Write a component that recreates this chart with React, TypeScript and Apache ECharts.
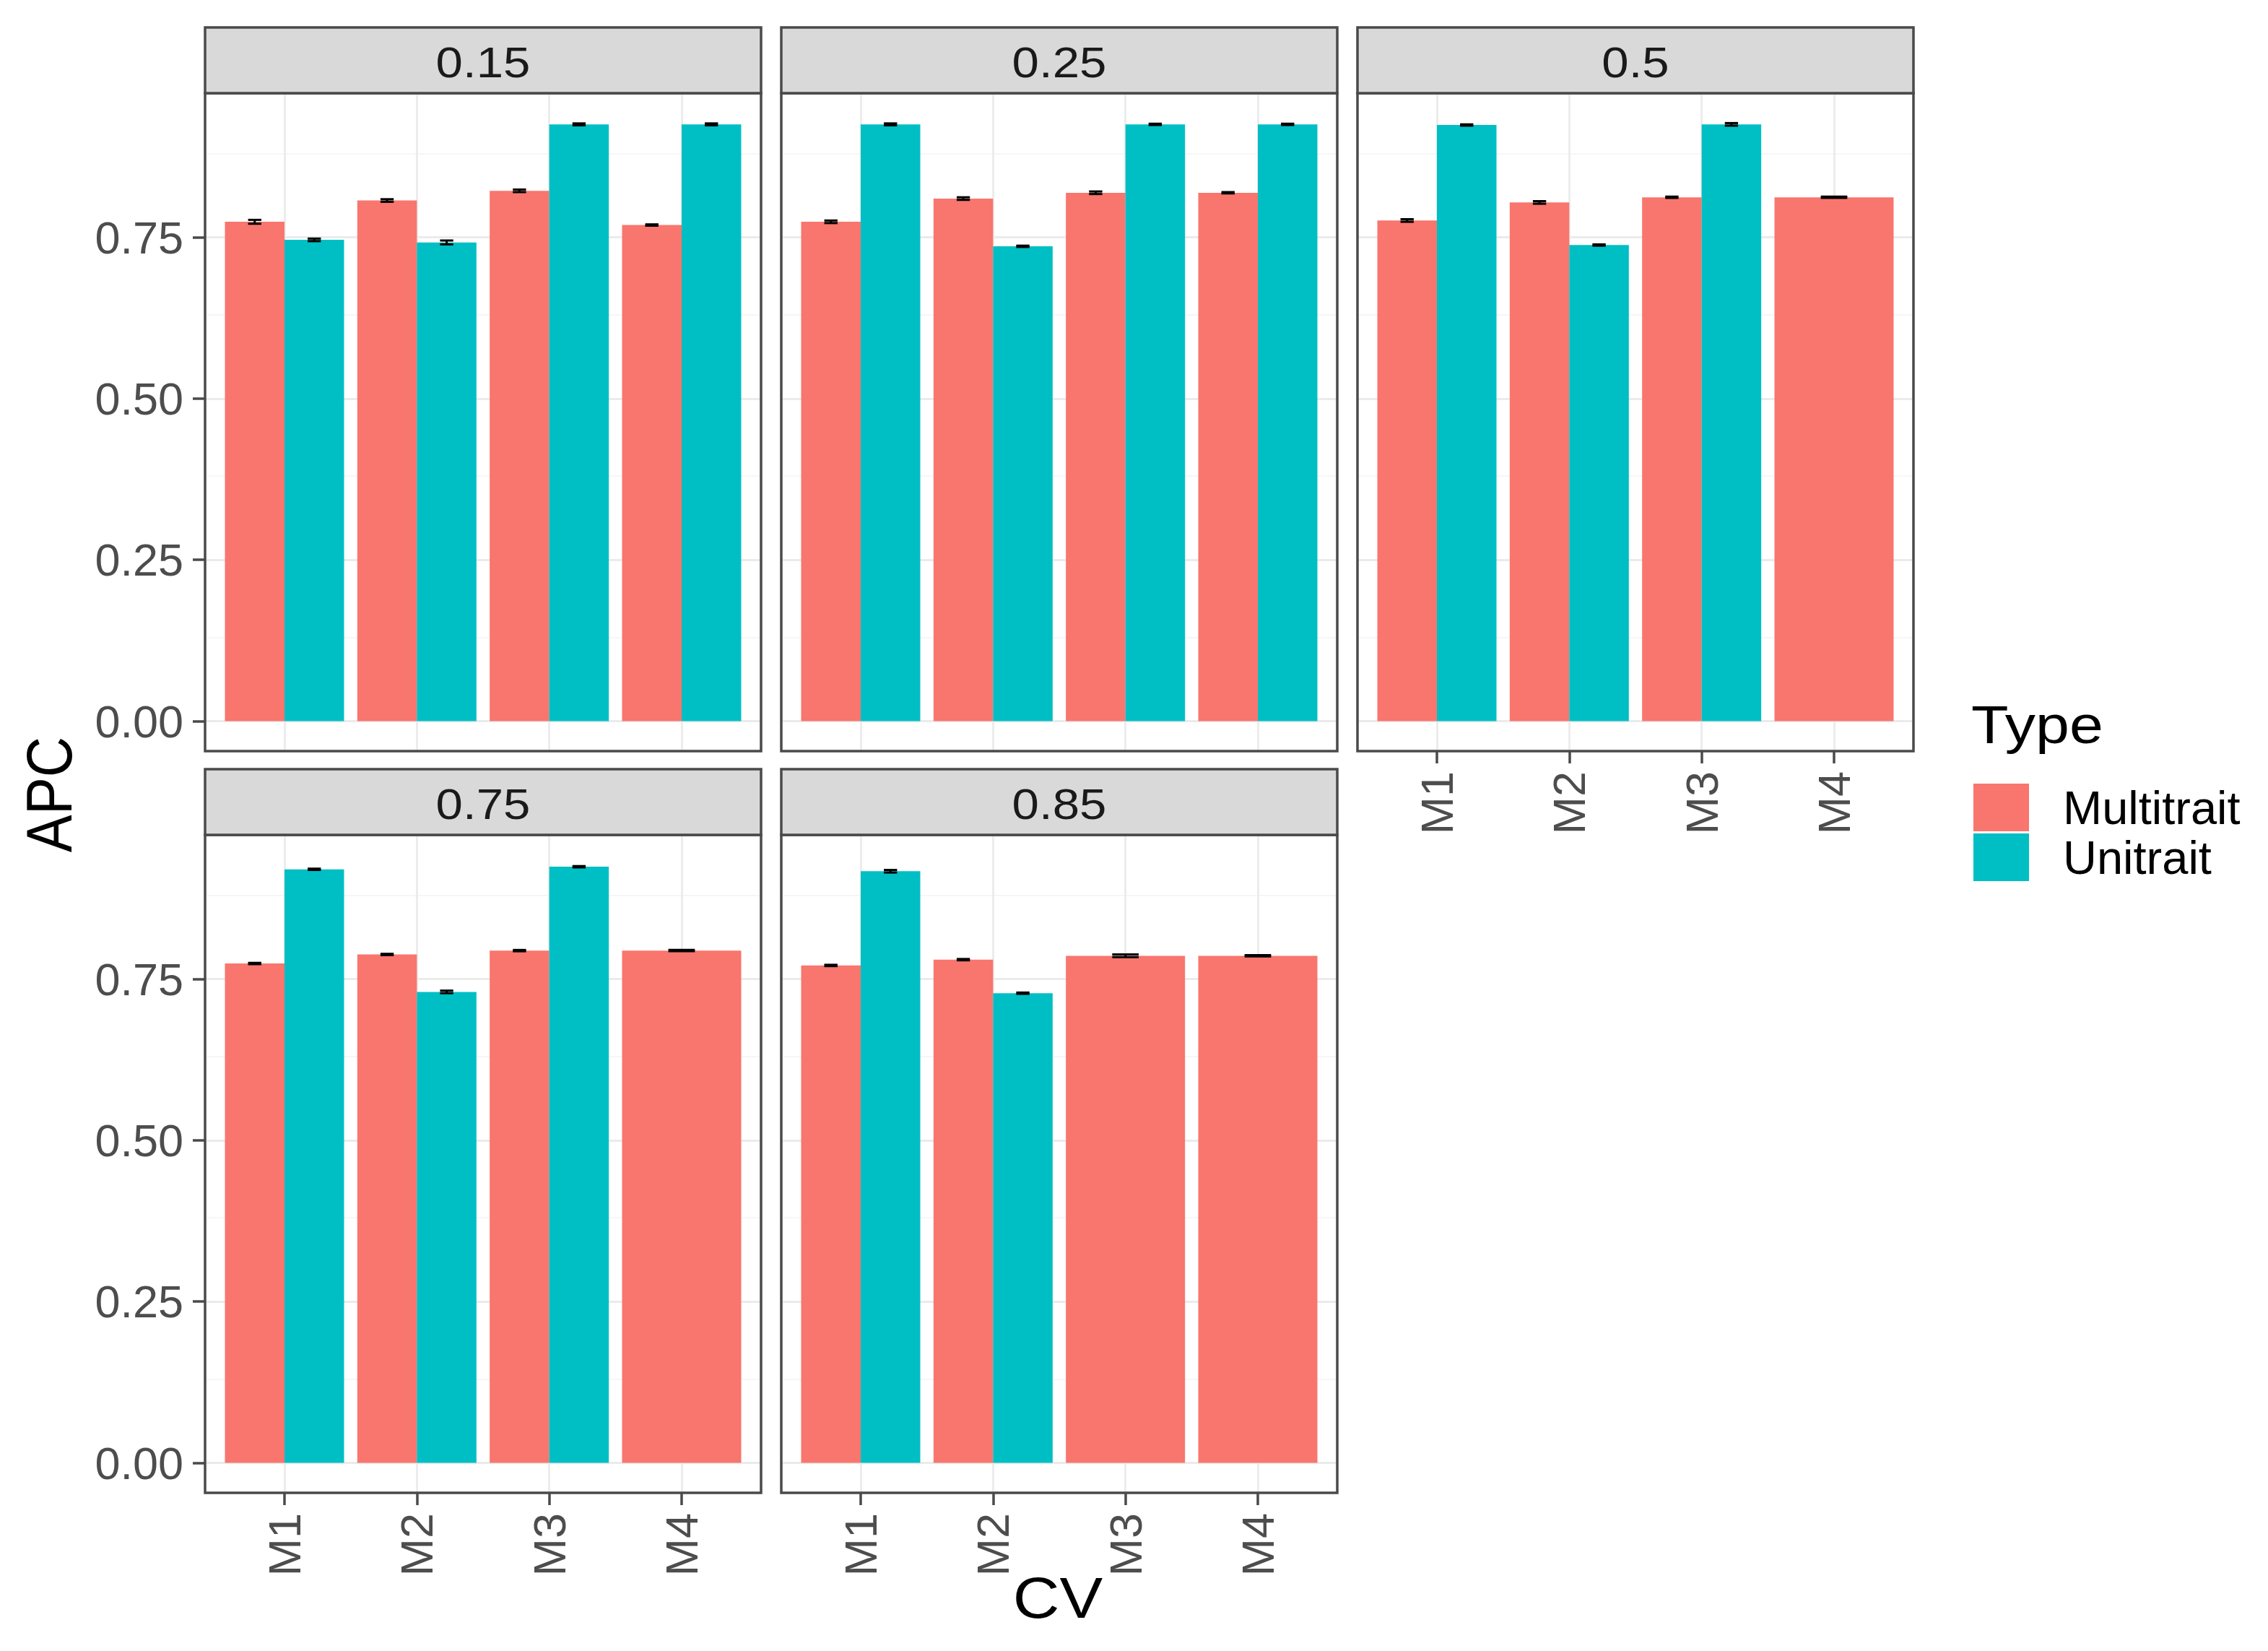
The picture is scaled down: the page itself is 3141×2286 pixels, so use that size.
import React, { useEffect, useRef } from "react";
import * as echarts from "echarts";

// ---------- data ----------
const FACETS = ["0.15", "0.25", "0.5", "0.75", "0.85"];
const MODELS = ["M1", "M2", "M3", "M4"];
const TYPES = ["Multitrait", "Unitrait"];
const COLORS = ["#F8766D", "#00BFC4"];

// APC per facet (rows follow FACETS), columns follow MODELS; null = not present
const MULTITRAIT = [
  [0.774, 0.807, 0.822, 0.769],
  [0.774, 0.810, 0.819, 0.819],
  [0.776, 0.804, 0.812, 0.812],
  [0.774, 0.788, 0.794, 0.794],
  [0.771, 0.780, 0.786, 0.786],
];
const UNITRAIT = [
  [0.746, 0.742, 0.925, 0.925],
  [0.925, 0.736, 0.925, 0.925],
  [0.924, 0.738, 0.925, null],
  [0.920, 0.730, 0.924, null],
  [0.917, 0.728, null, null],
];
const MULTITRAIT_SE = [
  [0.003, 0.002, 0.002, 0.001],
  [0.002, 0.002, 0.002, 0.001],
  [0.002, 0.002, 0.001, 0.001],
  [0.001, 0.001, 0.001, 0.001],
  [0.001, 0.001, 0.002, 0.001],
];
const UNITRAIT_SE = [
  [0.002, 0.003, 0.0015, 0.0015],
  [0.0015, 0.001, 0.001, 0.001],
  [0.001, 0.001, 0.002, null],
  [0.001, 0.002, 0.001, null],
  [0.002, 0.001, null, null],
];
const Y_TICKS = [0, 0.25, 0.5, 0.75];
const Y_MINOR = [0.125, 0.375, 0.625, 0.875];
const X_TITLE = "CV";
const Y_TITLE = "APC";
const LEGEND_TITLE = "Type";

// ---------- layout ----------
const W = 3141;
const H = 2286;
const FONT = "'Liberation Sans', Arial, Helvetica, sans-serif";
const PANEL_X = [284, 1082, 1880];
const PANEL_W = 770;
const STRIP_TOP = [38, 1065];
const STRIP_H = 91;
const PANEL_H = 911;
const BORDER = "#4a4a4a";

function buildOption() {
  let ymax = 0;
  [MULTITRAIT, UNITRAIT].forEach((tbl, t) => {
    const se = t === 0 ? MULTITRAIT_SE : UNITRAIT_SE;
    tbl.forEach((row, f) =>
      row.forEach((v, m) => {
        if (v != null) ymax = Math.max(ymax, v + (se[f][m] || 0));
      })
    );
  });
  const pad = 0.05 * ymax;
  const yMin = -pad;
  const yMax = ymax + pad;

  const grids: any[] = [];
  const xAxes: any[] = [];
  const yAxes: any[] = [];
  const series: any[] = [];
  const graphics: any[] = [];

  FACETS.forEach((facet, i) => {
    const row = Math.floor(i / 3);
    const col = i % 3;
    const left = PANEL_X[col];
    const top = STRIP_TOP[row] + STRIP_H;
    const showX = i >= 2;
    const showY = col === 0;

    grids.push({
      left,
      top,
      width: PANEL_W,
      height: PANEL_H,
      show: true,
      backgroundColor: "#ffffff",
      borderWidth: 0,
      containLabel: false,
    });

    xAxes.push({
      type: "value",
      gridIndex: i,
      min: 0.4,
      max: 4.6,
      position: "bottom",
      axisLine: { show: false, onZero: false },
      splitLine: { show: false },
      axisTick: {
        show: showX,
        customValues: [1, 2, 3, 4],
        length: 17,
        lineStyle: { color: BORDER, width: 3.5 },
      },
      axisLabel: {
        show: showX,
        customValues: [1, 2, 3, 4],
        formatter: (v: number) => MODELS[Math.round(v) - 1],
        rotate: 90,
        margin: 28,
        fontSize: 63,
        color: "#4D4D4D",
        fontFamily: FONT,
      },
    });

    yAxes.push({
      type: "value",
      gridIndex: i,
      min: yMin,
      max: yMax,
      position: "left",
      axisLine: { show: false, onZero: false },
      splitLine: { show: false },
      axisTick: {
        show: showY,
        customValues: Y_TICKS,
        length: 17,
        lineStyle: { color: BORDER, width: 3.5 },
      },
      axisLabel: {
        show: showY,
        customValues: Y_TICKS,
        formatter: (v: number) => v.toFixed(2),
        margin: 30,
        fontSize: 63,
        color: "#4D4D4D",
        fontFamily: FONT,
      },
    });

    // gridlines (behind bars)
    const gl: any[] = [];
    Y_MINOR.forEach((v) => {
      if (v < yMax) gl.push({ yAxis: v, lineStyle: { color: "#F3F3F3", width: 1.6, type: "solid" } });
    });
    Y_TICKS.forEach((v) => gl.push({ yAxis: v, lineStyle: { color: "#EBEBEB", width: 2.8, type: "solid" } }));
    MODELS.forEach((_, m) => gl.push({ xAxis: m + 1, lineStyle: { color: "#EBEBEB", width: 2.8, type: "solid" } }));
    series.push({
      type: "line",
      name: "grid" + i,
      xAxisIndex: i,
      yAxisIndex: i,
      data: [],
      z: 1,
      silent: true,
      markLine: {
        z: 1,
        silent: true,
        symbol: ["none", "none"],
        label: { show: false },
        emphasis: { disabled: true },
        data: gl,
      },
    });

    // bars per type
    TYPES.forEach((tname, t) => {
      const vals = t === 0 ? MULTITRAIT[i] : UNITRAIT[i];
      const ses = t === 0 ? MULTITRAIT_SE[i] : UNITRAIT_SE[i];
      const data: any[] = [];
      MODELS.forEach((_, m) => {
        const v = vals[m];
        if (v == null) return;
        const other = t === 0 ? UNITRAIT[i][m] : MULTITRAIT[i][m];
        const n = other == null ? 1 : 2;
        const w = 0.9 / n;
        const x = n === 1 ? m + 1 : m + 1 + (t === 0 ? -w / 2 : w / 2);
        data.push([x, v, w, ses[m] || 0]);
      });
      series.push({
        type: "custom",
        name: tname,
        xAxisIndex: i,
        yAxisIndex: i,
        z: 5,
        itemStyle: { color: COLORS[t] },
        encode: { x: 0, y: 1 },
        data,
        renderItem: (params: any, api: any) => {
          const x = api.value(0);
          const v = api.value(1);
          const w = api.value(2);
          const se = api.value(3);
          const p0 = api.coord([x - w / 2, v]);
          const p1 = api.coord([x + w / 2, 0]);
          const half = (0.2 * w) / 0.9 / 2;
          const eTop = api.coord([x - half, v + se]);
          const eBot = api.coord([x + half, v - se]);
          const es = { stroke: "#000000", lineWidth: 3 };
          return {
            type: "group",
            children: [
              {
                type: "rect",
                shape: { x: p0[0], y: p0[1], width: p1[0] - p0[0], height: p1[1] - p0[1] },
                style: { fill: COLORS[t] },
              },
              { type: "line", shape: { x1: eTop[0], y1: eTop[1], x2: eBot[0], y2: eTop[1] }, style: es },
              { type: "line", shape: { x1: eTop[0], y1: eBot[1], x2: eBot[0], y2: eBot[1] }, style: es },
              {
                type: "line",
                shape: { x1: (eTop[0] + eBot[0]) / 2, y1: eTop[1], x2: (eTop[0] + eBot[0]) / 2, y2: eBot[1] },
                style: es,
              },
            ],
          };
        },
      });
    });

    // panel border
    graphics.push({
      type: "rect",
      z: 100,
      shape: { x: left, y: top, width: PANEL_W, height: PANEL_H },
      style: { fill: "none", stroke: BORDER, lineWidth: 3.5 },
      silent: true,
    });
    // strip
    graphics.push({
      type: "rect",
      z: 100,
      shape: { x: left, y: STRIP_TOP[row], width: PANEL_W, height: STRIP_H },
      style: { fill: "#D9D9D9", stroke: BORDER, lineWidth: 3.5 },
      silent: true,
    });
    graphics.push({
      type: "text",
      z: 101,
      x: left + PANEL_W / 2,
      y: STRIP_TOP[row] + STRIP_H / 2 + 2,
      scaleX: 1.12,
      style: {
        text: facet,
        fill: "#1A1A1A",
        font: `60px ${FONT}`,
        textAlign: "center",
        textVerticalAlign: "middle",
      },
      silent: true,
    });
  });

  // axis titles
  graphics.push({
    type: "text",
    z: 101,
    x: 68,
    y: 1100,
    rotation: Math.PI / 2,
    scaleY: 1.15,
    style: {
      text: Y_TITLE,
      fill: "#000000",
      font: `78px ${FONT}`,
      textAlign: "center",
      textVerticalAlign: "middle",
    },
    silent: true,
  });
  graphics.push({
    type: "text",
    z: 101,
    x: PANEL_X[1] + PANEL_W / 2 - 2,
    y: 2212,
    scaleX: 1.12,
    style: {
      text: X_TITLE,
      fill: "#000000",
      font: `80px ${FONT}`,
      textAlign: "center",
      textVerticalAlign: "middle",
    },
    silent: true,
  });
  // legend title
  graphics.push({
    type: "text",
    z: 101,
    x: 2730,
    y: 1040,
    scaleX: 1.14,
    style: {
      text: LEGEND_TITLE,
      fill: "#000000",
      font: `74px ${FONT}`,
      textAlign: "left",
      textVerticalAlign: "bottom",
    },
    silent: true,
  });

  return {
    animation: false,
    backgroundColor: "#ffffff",
    textStyle: { fontFamily: FONT },
    grid: grids,
    xAxis: xAxes,
    yAxis: yAxes,
    legend: {
      data: TYPES,
      orient: "vertical",
      left: 2733,
      top: 1085,
      padding: 0,
      itemWidth: 77,
      itemHeight: 66,
      itemGap: 3,
      icon: "rect",
      selectedMode: false,
      textStyle: { fontSize: 65, color: "#000000", fontFamily: FONT, padding: [0, 0, 0, 42] },
    },
    series,
    graphic: graphics,
  };
}

export default function App() {
  const ref = useRef<HTMLDivElement>(null);
  useEffect(() => {
    document.body.style.margin = "0";
    if (!ref.current) return;
    const chart = echarts.init(ref.current, null, { renderer: "svg" });
    chart.setOption(buildOption() as any);
    return () => chart.dispose();
  }, []);
  return <div ref={ref} style={{ width: W, height: H, background: "#fff" }} />;
}
